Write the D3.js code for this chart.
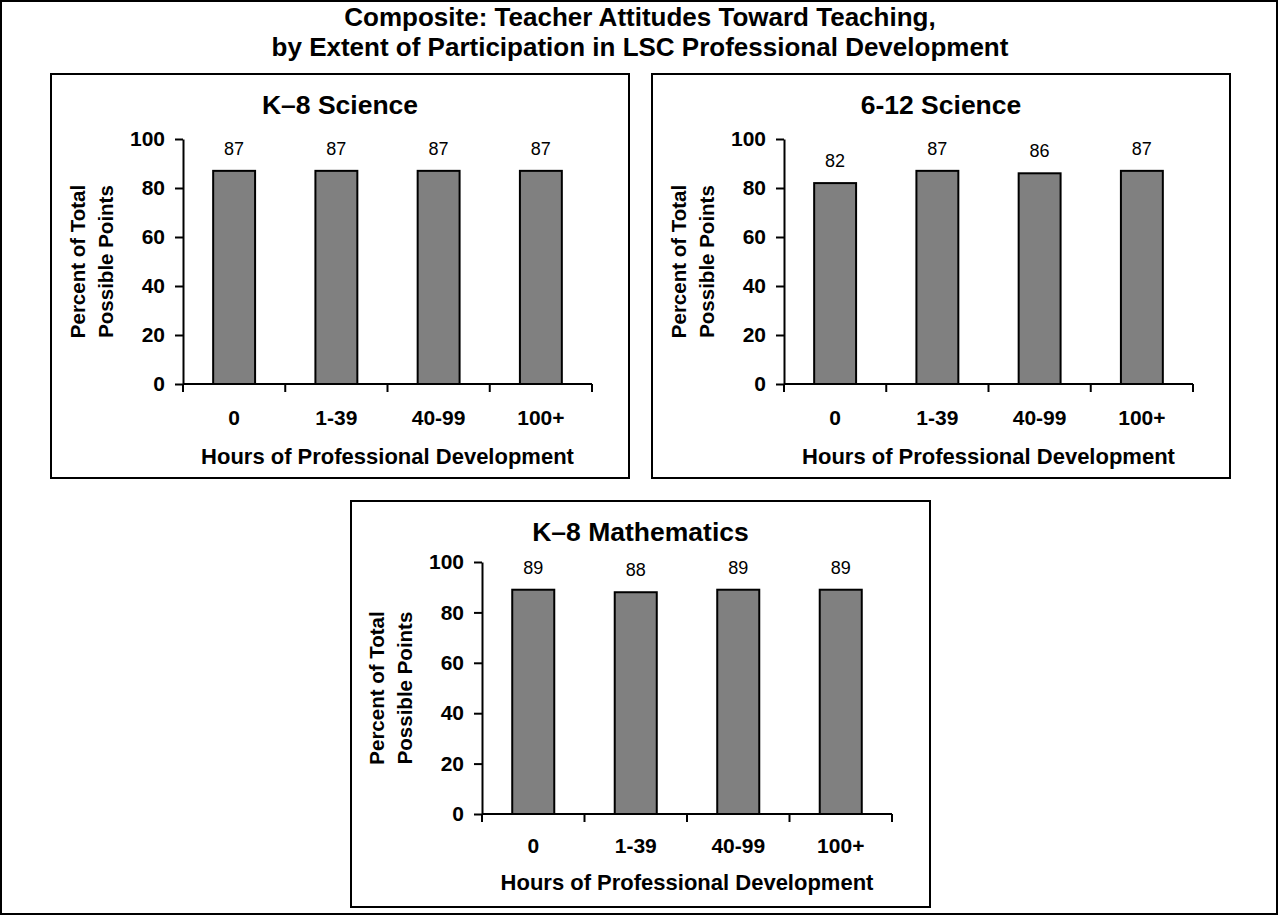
<!DOCTYPE html>
<html>
<head>
<meta charset="utf-8">
<script src="https://cdn.jsdelivr.net/npm/d3@7"></script>
<style>
  html, body { margin: 0; padding: 0; background: #fff; }
  svg { display: block; font-family: "Liberation Sans", Arial, Helvetica, sans-serif; }
</style>
</head>
<body>
<svg id="chart" width="1279" height="916"></svg>
<script>
// Hours of professional development (x categories)
const categories = ["0", "1-39", "40-99", "100+"];
// Percent of total possible points per group
const k8Science = [87, 87, 87, 87];
const science612 = [82, 87, 86, 87];
const k8Math = [89, 88, 89, 89];
const yTicks = [0, 20, 40, 60, 80, 100];
const panelTitles = ["K\u20138 Science", "6-12 Science", "K\u20138 Mathematics"];
const chartTitle = ["Composite: Teacher Attitudes Toward Teaching,",
                    "by Extent of Participation in LSC Professional Development"];
const xAxisTitle = "Hours of Professional Development";
const yAxisTitle = ["Percent of Total", "Possible Points"];

const svg = d3.select("#chart");

// outer frame
svg.append("rect")
  .attr("x", 1).attr("y", 1).attr("width", 1276).attr("height", 913)
  .attr("fill", "none").attr("stroke", "#000").attr("stroke-width", 2);

// main title (two lines)
svg.append("g").selectAll("text").data(chartTitle).join("text")
  .attr("x", 640)
  .attr("y", (d, i) => 26 + i * 29.5)
  .attr("text-anchor", "middle")
  .attr("font-weight", "bold")
  .attr("font-size", 26)
  .text(d => d);

// panel layout: frame box and plot area
const panels = [
  { title: panelTitles[0], values: k8Science,
    box: [51, 74, 629, 478], plot: [183, 139, 592, 384], xTitleGap: 80, catGap: 41 },
  { title: panelTitles[1], values: science612,
    box: [652, 74, 1230, 478], plot: [784, 139, 1193, 384], xTitleGap: 80, catGap: 41 },
  { title: panelTitles[2], values: k8Math,
    box: [351, 501, 930, 907], plot: [482, 562, 892, 814], xTitleGap: 76, catGap: 39 }
];

panels.forEach(p => {
  const [bx0, by0, bx1, by1] = p.box;
  const [px0, py0, px1, py1] = p.plot;
  const g = svg.append("g");

  g.append("rect")
    .attr("x", bx0).attr("y", by0)
    .attr("width", bx1 - bx0).attr("height", by1 - by0)
    .attr("fill", "#fff").attr("stroke", "#000").attr("stroke-width", 2);

  g.append("text")
    .attr("x", (bx0 + bx1) / 2)
    .attr("y", by0 + 40)
    .attr("text-anchor", "middle")
    .attr("font-weight", "bold")
    .attr("font-size", 26.5)
    .text(p.title);

  const x = d3.scaleBand().domain(categories).range([px0, px1])
    .paddingInner(0.59).paddingOuter(0.295);
  const y = d3.scaleLinear().domain([0, 100]).range([py1, py0]);

  // bars
  g.selectAll("rect.bar").data(p.values).join("rect")
    .attr("class", "bar")
    .attr("x", (d, i) => x(categories[i]))
    .attr("y", d => y(d))
    .attr("width", x.bandwidth())
    .attr("height", d => y(0) - y(d))
    .attr("fill", "#808080")
    .attr("stroke", "#000")
    .attr("stroke-width", 2);

  // value labels
  g.selectAll("text.val").data(p.values).join("text")
    .attr("class", "val")
    .attr("x", (d, i) => x(categories[i]) + x.bandwidth() / 2)
    .attr("y", d => y(d) - 16)
    .attr("text-anchor", "middle")
    .attr("font-size", 18)
    .text(d => d);

  // y axis
  const yAxis = d3.axisLeft(y).tickValues(yTicks).tickSize(8).tickPadding(10).tickSizeOuter(0);
  const ya = g.append("g").attr("transform", `translate(${px0},0)`).call(yAxis);
  ya.select(".domain").attr("stroke-width", 2).attr("stroke", "#000");
  ya.selectAll(".tick line").attr("stroke-width", 2).attr("stroke", "#000");
  ya.selectAll(".tick text")
    .attr("font-family", null)
    .attr("font-size", 21).attr("font-weight", "bold").attr("fill", "#000");

  // x axis with ticks at category boundaries
  const xa = g.append("g").attr("transform", `translate(0,${py1})`);
  xa.append("line")
    .attr("x1", px0).attr("x2", px1)
    .attr("stroke", "#000").attr("stroke-width", 2);
  const edges = categories.map((c, i) => px0 + i * x.step());
  edges.push(px1);
  xa.selectAll("line.tick").data(edges).join("line")
    .attr("class", "tick")
    .attr("x1", d => d).attr("x2", d => d)
    .attr("y1", 0).attr("y2", 8)
    .attr("stroke", "#000").attr("stroke-width", 2);
  xa.selectAll("text.cat").data(categories).join("text")
    .attr("class", "cat")
    .attr("x", d => x(d) + x.bandwidth() / 2)
    .attr("y", p.catGap)
    .attr("text-anchor", "middle")
    .attr("font-size", 21).attr("font-weight", "bold")
    .text(d => d);

  // x axis title
  g.append("text")
    .attr("x", (px0 + px1) / 2)
    .attr("y", py1 + p.xTitleGap)
    .attr("text-anchor", "middle")
    .attr("font-size", 22).attr("font-weight", "bold")
    .text(xAxisTitle);

  // y axis title (two rotated lines)
  const cy = (py0 + py1) / 2;
  yAxisTitle.forEach((t, i) => {
    const bx = px0 - 98 + i * 28;
    g.append("text")
      .attr("transform", `translate(${bx},${cy}) rotate(-90)`)
      .attr("text-anchor", "middle")
      .attr("font-size", 20.5).attr("font-weight", "bold")
      .text(t);
  });
});
</script>
</body>
</html>
